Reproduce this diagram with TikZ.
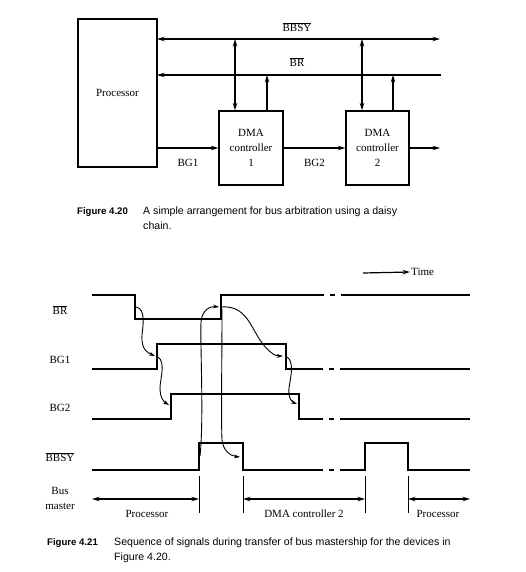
\documentclass[tikz,border=0pt]{standalone}
\usepackage{fontspec}
\setmainfont{Liberation Serif}
\setsansfont{Liberation Sans}
\usetikzlibrary{arrows.meta, positioning, calc}
\newcommand{\notsig}[1]{$\overline{\mbox{#1}}$}

\begin{document}
\begin{tikzpicture}[x=1pt, y=-1pt,
    >={Stealth[length=7.5pt,width=4.5pt]},
    every node/.style={inner sep=1pt},
    lbl/.style={font=\fontsize{11}{15}\selectfont, align=center},
    unit/.style={draw=black, line width=1.2pt, align=center,
                 font=\fontsize{11}{15}\selectfont},
    bus/.style={line width=1.2pt},
    wave/.style={line width=1.3pt},
    tick/.style={line width=0.8pt},
    cause/.style={->, line width=0.9pt, >={Stealth[length=6pt,width=3.8pt]}},
    capnum/.style={font=\sffamily\bfseries\fontsize{9.6}{14.5}\selectfont, anchor=north west},
    captext/.style={font=\sffamily\fontsize{10.6}{15}\selectfont, anchor=north west, align=left}
  ]
  \useasboundingbox (0,0) rectangle (526,572);

  % ===== FIGURE 4.20: DAISY CHAIN =====
  \node[unit, minimum width=79pt, minimum height=148pt] (proc) at (117.5,93) {Processor};
  \node[unit, minimum width=64pt, minimum height=74pt] (dma1) at (251,148) {DMA\\controller\\1};
  \node[unit, minimum width=63pt, minimum height=74pt] (dma2) at (377.5,148) {DMA\\controller\\2};

  % bus lines
  \coordinate (bbsyL) at (157,39);
  \coordinate (bbsyR) at (440,39);
  \coordinate (brL)   at (157,75);
  \coordinate (brR)   at (441,75);
  \draw[bus,<->] (bbsyL) -- (bbsyR);
  \draw[bus,<-]  (brL) -- (brR);
  \node[lbl] (bbsylbl) at (297,27) {\notsig{BBSY}};
  \node[lbl] (brlbl)   at (297,62) {\notsig{BR}};

  % taps from the controllers
  \coordinate (busy1) at (235,39);
  \coordinate (req1)  at (267,75);
  \coordinate (busy2) at (362,39);
  \coordinate (req2)  at (393,75);
  \draw[bus,<->] (busy1) -- (busy1 |- dma1.north);
  \draw[bus,->]  (req1 |- dma1.north) -- (req1);
  \draw[bus,<->] (busy2) -- (busy2 |- dma2.north);
  \draw[bus,->]  (req2 |- dma2.north) -- (req2);

  % grant chain
  \coordinate (bgout) at (440,148);
  \draw[bus,->] (proc.east |- dma1.west) -- node[lbl, yshift=-15pt] (bg1) {BG1} (dma1.west);
  \draw[bus,->] (dma1.east) -- node[lbl, yshift=-15pt] (bg2) {BG2} (dma2.west);
  \draw[bus,->] (dma2.east) -- (bgout);

  % caption
  \node[capnum] (cap20) at (76,206) {Figure 4.20};
  \node[captext] (cap20t) at (142,206) {A simple arrangement for bus arbitration using a daisy\\chain.};

  % ===== FIGURE 4.21: TIMING =====
  \coordinate (time0) at (363,273);
  \node[lbl, anchor=west] (timelbl) at (410,272) {Time};
  \draw[bus,->] (time0) -- (timelbl.west);

  % signal names
  \node[lbl] (sigbr)   at (60,310) {\notsig{BR}};
  \node[lbl] (sigbg1)  at (60,360) {BG1};
  \node[lbl] (sigbg2)  at (60,408) {BG2};
  \node[lbl] (sigbbsy) at (60,457) {\notsig{BBSY}};
  \node[lbl] (sigmast) at (60,498) {Bus\\master};

  % waveforms
  \draw[wave] (92,295) -- (135,295) -- (135,319) -- (221,319) -- (221,295) -- (324,295)
              (330,295) -- (335,295) (341,295) -- (470,295);
  \draw[wave] (92,369) -- (157,369) -- (157,344) -- (286,344) -- (286,369) -- (323,369)
              (329,369) -- (334,369) (340,369) -- (470,369);
  \draw[wave] (92,419) -- (171,419) -- (171,394) -- (299,394) -- (299,419) -- (323,419)
              (329,419) -- (334,419) (340,419) -- (470,419);
  \draw[wave] (92,470) -- (199,470) -- (199,443) -- (243,443) -- (243,470) -- (323,470)
              (329,470) -- (334,470) (340,470) -- (365,470) -- (365,443) -- (408,443)
              -- (408,470) -- (470,470);

  % cause and effect
  \draw[cause] (136,307) .. controls (146,309) and (143,325) .. (142,335)
               .. controls (141,350) and (148,353) .. (155,356);
  \draw[cause] (158,357) .. controls (166,362) and (160,380) .. (160,388)
               .. controls (160,398) and (164,402) .. (169,405);
  \draw[cause] (200,456) .. controls (204,420) and (200,340) .. (201,322)
               .. controls (202,310) and (210,306) .. (219,307);
  \draw[cause] (222,309) .. controls (222,360) and (221,420) .. (222,440)
               .. controls (223,450) and (230,456) .. (240,457);
  \draw[cause] (221,307) .. controls (245,305) and (250,325) .. (260,340)
               .. controls (268,352) and (275,356) .. (283,356);
  \draw[cause] (287,357) .. controls (295,362) and (290,380) .. (289,388)
               .. controls (288,398) and (292,402) .. (297,404);

  % bus master spans
  \foreach \x in {199,243,365,408}
    \draw[tick] (\x,476) -- (\x,513);
  \coordinate (m0) at (92,499);
  \coordinate (m1) at (199,499);
  \coordinate (m2) at (243,499);
  \coordinate (m3) at (365,499);
  \coordinate (m4) at (408,499);
  \coordinate (m5) at (470,499);
  \draw[bus,<->] (m0) -- (m1);
  \draw[bus,<->] (m2) -- (m3);
  \draw[bus,<->] (m4) -- (m5);
  \node[lbl] (own1) at (147,514) {Processor};
  \node[lbl] (own2) at (304,514) {DMA controller 2};
  \node[lbl] (own3) at (438,514) {Processor};

  % caption
  \node[capnum] (cap21) at (46,537) {Figure 4.21};
  \node[captext] (cap21t) at (113,537) {Sequence of signals during transfer of bus mastership for the devices in\\Figure 4.20.};
\end{tikzpicture}
\end{document}
